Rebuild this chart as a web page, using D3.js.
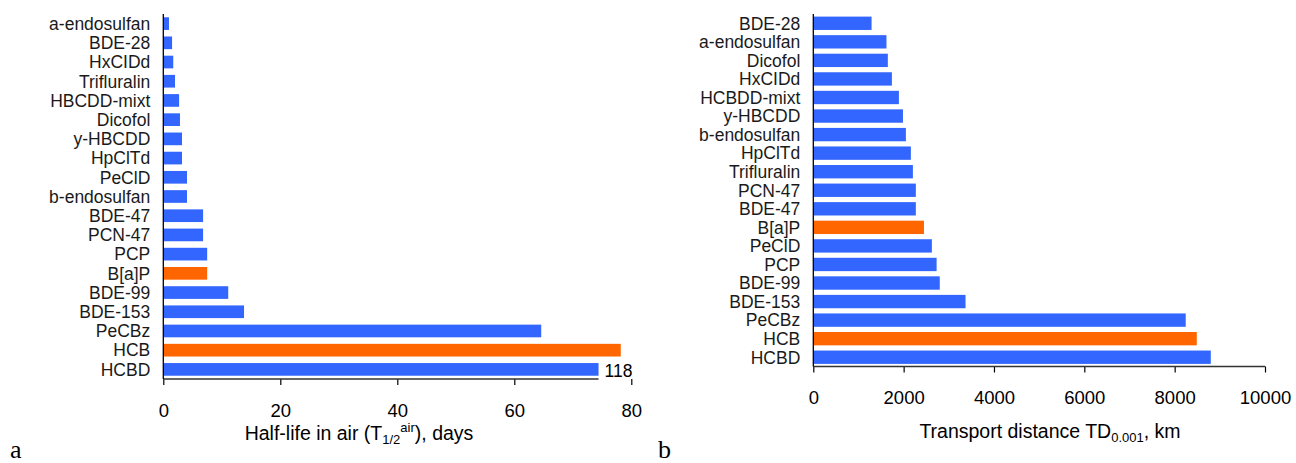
<!DOCTYPE html>
<head>
    <meta charset="utf-8">
</head>
<style>
    body { margin: 0; background: #fff; }
    svg { font-family: "Liberation Sans", Arial, sans-serif; }
    .cat { font-size: 17.5px; fill: #1a1a1a; }
    .tick text { font-size: 18.5px; fill: #000; }
    .title { font-size: 19.5px; fill: #000; }
    .note { font-size: 17.5px; fill: #000; }
    .panel { font-family: "Liberation Serif", "Times New Roman", serif; font-size: 26px; }
</style>

<svg id="chart" width="1296" height="463"></svg>

<script src="https://cdn.jsdelivr.net/npm/d3@7"></script>
<script>

    // panel a: half-life in air, days
    var halfLifeNames = ["a-endosulfan", "BDE-28", "HxCIDd", "Trifluralin", "HBCDD-mixt", "Dicofol",
        "y-HBCDD", "HpClTd", "PeClD", "b-endosulfan", "BDE-47", "PCN-47", "PCP", "B[a]P",
        "BDE-99", "BDE-153", "PeCBz", "HCB", "HCBD"];
    var halfLifeValues = [0.97, 1.5, 1.7, 2.0, 2.7, 2.85, 3.2, 3.2, 4.05, 4.05,
        6.8, 6.8, 7.5, 7.5, 11.1, 13.8, 64.6, 78.2, 74.4];
    // HCBD bar is cut off on the chart, the true value is written next to it
    var halfLifeLabels = {"HCBD": "118"};
    var halfLifeTicks = [0, 20, 40, 60, 80];

    // panel b: transport distance, km
    var distNames = ["BDE-28", "a-endosulfan", "Dicofol", "HxCIDd", "HCBDD-mixt", "y-HBCDD",
        "b-endosulfan", "HpClTd", "Trifluralin", "PCN-47", "BDE-47", "B[a]P", "PeClD", "PCP",
        "BDE-99", "BDE-153", "PeCBz", "HCB", "HCBD"];
    var distValues = [1290, 1620, 1650, 1740, 1895, 1985, 2050, 2160, 2205, 2270, 2270,
        2450, 2625, 2730, 2800, 3370, 8245, 8490, 8800];
    var distTicks = [0, 2000, 4000, 6000, 8000, 10000];

    var highlight = ["B[a]P", "HCB"];
    var blue = "#3366ff", orange = "#ff6600";

    var svg = d3.select("#chart");

    function panel(opt) {
        var g = svg.append("g");
        var x = d3.scaleLinear().domain(opt.domain).range([opt.left, opt.right]);
        var y = d3.scaleBand().domain(opt.names).range([opt.top, opt.bottom]).paddingInner(opt.pad).paddingOuter(opt.pad / 2);

        g.selectAll("rect.bar")
            .data(opt.names)
            .enter().append("rect")
            .attr("class", "bar")
            .attr("x", x(0))
            .attr("y", function (d) { return y(d); })
            .attr("height", y.bandwidth())
            .attr("width", function (d, i) { return x(opt.values[i]) - x(0); })
            .attr("fill", function (d) { return highlight.indexOf(d) >= 0 ? orange : blue; });

        g.selectAll("text.cat")
            .data(opt.names)
            .enter().append("text")
            .attr("class", "cat")
            .attr("x", opt.left - 13)
            .attr("y", function (d) { return y(d) + y.bandwidth() / 2; })
            .attr("dy", "0.36em")
            .attr("text-anchor", "end")
            .text(function (d) { return d; });

        // bottom axis
        var axis = g.append("g")
            .attr("class", "xaxis")
            .attr("transform", "translate(0," + opt.bottom + ")")
            .call(d3.axisBottom(x).tickValues(opt.ticks).tickFormat(d3.format("d"))
                .tickSize(6).tickPadding(opt.tickPad).tickSizeOuter(0));
        axis.select(".domain").remove();
        axis.selectAll(".tick line").attr("stroke", "#000").attr("stroke-width", 1.2);
        axis.append("line")
            .attr("x1", x(0)).attr("x2", opt.lineEnd ? opt.lineEnd(x) : opt.right)
            .attr("stroke", "#333").attr("stroke-width", 1.5);

        // vertical axis line
        g.append("line")
            .attr("x1", x(0)).attr("x2", x(0))
            .attr("y1", opt.top).attr("y2", opt.bottom)
            .attr("stroke", "#000").attr("stroke-width", 1.3);

        return {g: g, x: x, y: y};
    }

    var a = panel({
        names: halfLifeNames, values: halfLifeValues, domain: [0, 80], ticks: halfLifeTicks,
        left: 163.3, right: 631.3, top: 14, bottom: 379, pad: 0.34, tickPad: 19,
        lineEnd: function (x) { return x(halfLifeValues[halfLifeValues.length - 1]); }
    });
    a.g.selectAll("text.note")
        .data(halfLifeNames.filter(function (d) { return halfLifeLabels[d]; }))
        .enter().append("text")
        .attr("class", "note")
        .attr("x", function (d) { return a.x(halfLifeValues[halfLifeNames.indexOf(d)]) + 6; })
        .attr("y", function (d) { return a.y(d) + a.y.bandwidth() / 2; })
        .attr("dy", "0.45em")
        .text(function (d) { return halfLifeLabels[d]; });

    var at = svg.append("text").attr("class", "title").attr("x", 359).attr("y", 440).attr("text-anchor", "middle");
    at.append("tspan").text("Half-life in air (T");
    at.append("tspan").attr("dy", 4).attr("font-size", "13px").text("1/2");
    at.append("tspan").attr("dy", -12).attr("font-size", "13px").text("air");
    at.append("tspan").attr("dy", 8).text("), days");

    var b = panel({
        names: distNames, values: distValues, domain: [0, 10000], ticks: distTicks,
        left: 813.3, right: 1265, top: 14, bottom: 366.5, pad: 0.28, tickPad: 18
    });

    var bt = svg.append("text").attr("class", "title").attr("x", 1050).attr("y", 438).attr("text-anchor", "middle");
    bt.append("tspan").text("Transport distance TD");
    bt.append("tspan").attr("dy", 4).attr("font-size", "13px").text("0.001");
    bt.append("tspan").attr("dy", -4).text(", km");

    svg.append("text").attr("class", "panel").attr("x", 10).attr("y", 458).text("a");
    svg.append("text").attr("class", "panel").attr("x", 658).attr("y", 458).text("b");
</script>
